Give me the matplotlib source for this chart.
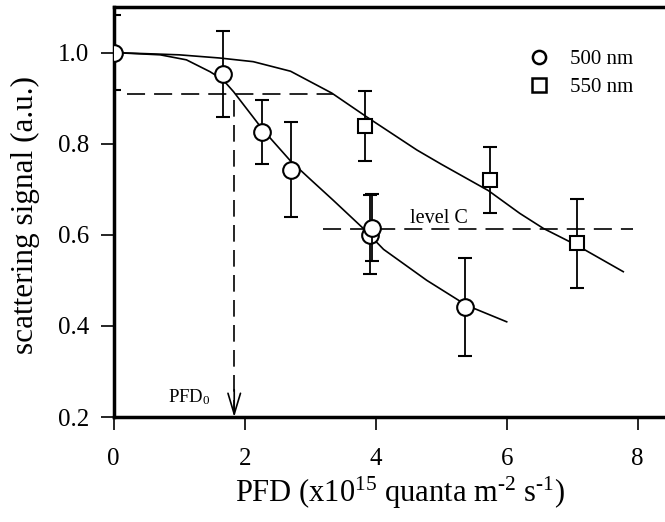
import matplotlib
matplotlib.use("Agg")
import matplotlib.pyplot as plt
from matplotlib.lines import Line2D

plt.rcParams['font.family'] = ['Liberation Serif', 'DejaVu Serif']
plt.rcParams['mathtext.fontset'] = 'custom'
plt.rcParams['mathtext.rm'] = 'Liberation Serif'
plt.rcParams['mathtext.it'] = 'Liberation Serif:italic'
plt.rcParams['lines.scale_dashes'] = False

# ---- data ----
x500 = [0.0, 1.67, 2.27, 2.70, 3.91, 3.95, 5.37]
y500 = [1.0, 0.953, 0.826, 0.743, 0.600, 0.616, 0.442]
e500 = [0.083, 0.094, 0.070, 0.105, 0.087, 0.074, 0.107]

x550 = [3.83, 5.745, 7.07]
y550 = [0.839, 0.720, 0.581]
e550 = [0.076, 0.072, 0.098]

# fitted curves (traced)
fit500_x = [0.0, 0.71, 1.11, 1.47, 1.67, 1.83, 2.28, 2.70, 3.00, 3.35, 3.81, 4.12, 4.78, 5.39, 6.0]
fit500_y = [1.0, 0.995, 0.984, 0.958, 0.940, 0.914, 0.830, 0.762, 0.722, 0.676, 0.614, 0.568, 0.500, 0.445, 0.409]
fit550_x = [0.0, 1.0, 1.62, 2.13, 2.70, 3.33, 3.86, 4.63, 5.0, 5.72, 6.20, 6.56, 7.07, 7.78]
fit550_y = [1.0, 0.995, 0.988, 0.980, 0.959, 0.911, 0.859, 0.786, 0.755, 0.697, 0.647, 0.614, 0.577, 0.519]

pfd0_x = 1.84
level0_y = 0.909
levelC_y = 0.612
levelC_x = [3.19, 7.93]
level0_x = [0.21, 3.35]

xticks = [0, 2, 4, 6, 8]
yticks = [0.2, 0.4, 0.6, 0.8, 1.0]
labels = ['500 nm', '550 nm']

fig = plt.figure(figsize=(6.65, 5.22), dpi=100)
ax = fig.add_axes([0.171, 0.2011, 0.829, 0.7855])
ax.set_xlim(0, 8.417)
ax.set_ylim(0.2, 1.1)

# fitted curves
ax.plot(fit500_x, fit500_y, color='black', lw=1.2, zorder=2)
ax.plot(fit550_x, fit550_y, color='black', lw=1.2, zorder=2)

# dashed construction lines
dash = (13, 6.5)
ax.plot(level0_x, [level0_y, level0_y], color='black', lw=1.2, dashes=dash, zorder=1)
ax.plot(levelC_x, [levelC_y, levelC_y], color='black', lw=1.2, dashes=dash, zorder=1)
ax.plot([pfd0_x, pfd0_x], [0.896, 0.215], color='black', lw=1.2, dashes=(12, 6), zorder=1)
ax.annotate('', xy=(pfd0_x, 0.2), xytext=(pfd0_x, 0.26),
            arrowprops=dict(arrowstyle='->,head_length=15,head_width=4.5',
                            mutation_scale=1, color='black', lw=1.2,
                            shrinkA=0, shrinkB=0), zorder=3)

# error bars + markers
for i in range(len(x500)):
    ax.errorbar(x500[i], y500[i], yerr=e500[i], fmt='o', ms=12, mfc='white',
                mec='black', mew=1.5, ecolor='black', elinewidth=1.3,
                capsize=5.3, capthick=1.3, zorder=4 + i)
for i in range(len(x550)):
    ax.errorbar(x550[i], y550[i], yerr=e550[i], fmt='s', ms=10, mfc='white',
                mec='black', mew=1.5, ecolor='black', elinewidth=1.3,
                capsize=5.3, capthick=1.3, zorder=4)

# annotations
ax.text(4.53, 0.626, 'level C', fontsize=14.5, ha='left', va='baseline')
ax.text(0.834, 0.233, 'PFD$_0$', fontsize=13.5, ha='left', va='baseline')

# legend
handles = [Line2D([], [], marker='o', ls='none', ms=9.5, mfc='white', mec='black', mew=1.8),
           Line2D([], [], marker='s', ls='none', ms=9.5, mfc='white', mec='black', mew=1.8)]
ax.legend(handles, labels, loc='upper left', bbox_to_anchor=(0.727, 0.932),
          frameon=False, fontsize=15, handlelength=1.0, handletextpad=0.95,
          labelspacing=0.42, borderpad=0.2, numpoints=1)

# axes style
for s in ['left', 'top', 'bottom']:
    ax.spines[s].set_linewidth(2.5)
ax.spines['right'].set_visible(False)
ax.set_xticks(xticks)
ax.set_yticks(yticks)
ax.set_xticklabels([str(t) for t in xticks])
ax.set_yticklabels(['%.1f' % t for t in yticks])
ax.tick_params(direction='out', length=9.5, width=1.2, labelsize=18,
               top=False, right=False)
ax.tick_params(axis='x', pad=13)
ax.tick_params(axis='y', pad=8)

fig.text(25 / 665, 1 - 214.5 / 522, 'scattering signal (a.u.)', rotation=90, fontsize=22.5,
         ha='center', va='center')
fig.text(400 / 665, 1 - 502 / 522,
         'PFD (x10$^{15}$ quanta m$^{\\text{-}2}$ s$^{\\text{-}1}$)',
         fontsize=22, ha='center', va='baseline')

fig.savefig('out.png', dpi=100)
